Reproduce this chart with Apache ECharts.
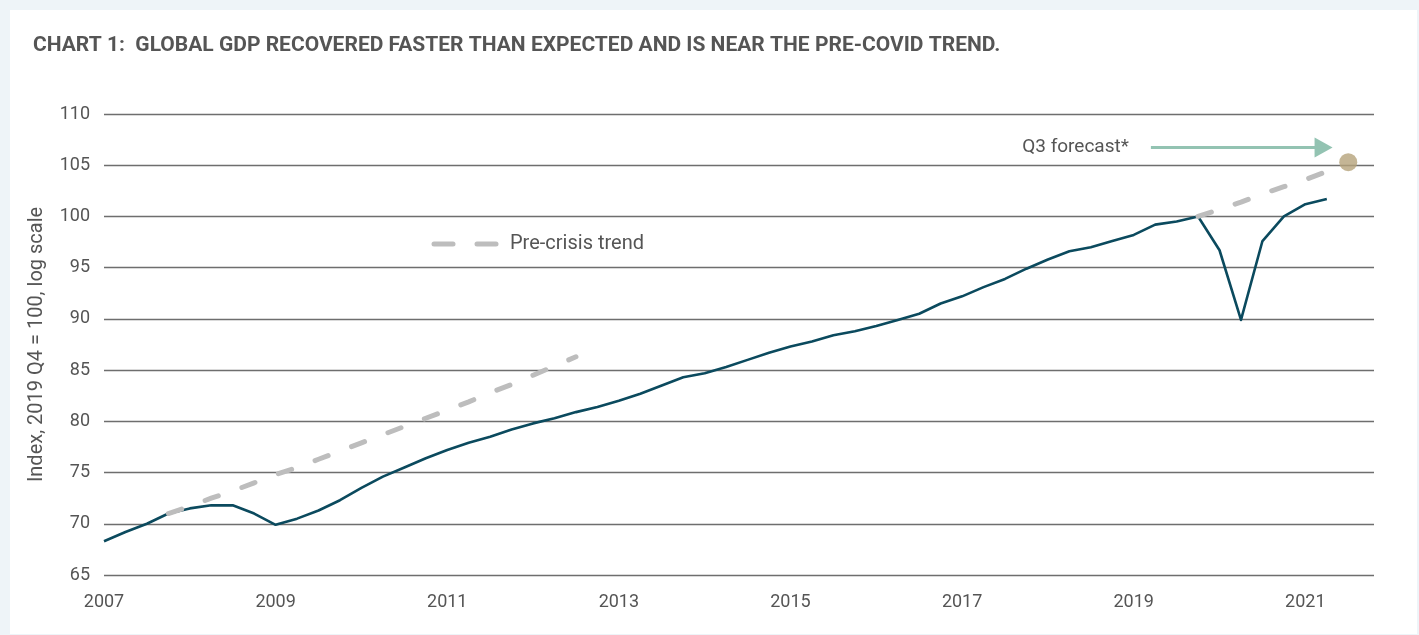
<!DOCTYPE html>
<html>
<head>
<meta charset="utf-8">
<script src="https://cdn.jsdelivr.net/npm/echarts@6/dist/echarts.min.js"></script>
<style>
  html, body { margin: 0; padding: 0; background: #eef4f8; }
  #card { position: absolute; left: 10px; top: 10px; width: 1407px; height: 624px; background: #ffffff; }
  #chart { position: absolute; left: 0; top: 0; width: 1419px; height: 635px; }
</style>
</head>
<body>
<div id="card"></div>
<div id="chart"></div>
<script>
// Quarterly index, 2019 Q4 = 100. Quarter 0 = 2007 Q1.
const startYear = 2007;
const yTicks = [65, 70, 75, 80, 85, 90, 95, 100, 105, 110];
const xTickYears = [2007, 2009, 2011, 2013, 2015, 2017, 2019, 2021];

// Global GDP, 2007 Q1 .. 2021 Q2
const gdp = [
  68.3, 69.2, 70.0, 71.0, 71.5, 71.8, 71.8, 71.0,
  69.9, 70.5, 71.3, 72.3, 73.5, 74.6, 75.5, 76.4,
  77.2, 77.9, 78.5, 79.2, 79.8, 80.3, 80.9, 81.4,
  82.0, 82.7, 83.5, 84.3, 84.7, 85.3, 86.0, 86.7,
  87.3, 87.8, 88.4, 88.8, 89.3, 89.9, 90.5, 91.5,
  92.2, 93.1, 93.9, 94.9, 95.8, 96.6, 97.0, 97.6,
  98.2, 99.2, 99.5, 100.0, 96.7, 89.9, 97.6, 100.0,
  101.2, 101.7
];

// Pre-crisis trend, 2007 Q4 .. 2012 Q3
const trendPreStart = 3;
const trendPre = [
  71.0, 71.7, 72.5, 73.2, 74.0, 74.8, 75.5, 76.3,
  77.1, 77.9, 78.7, 79.5, 80.3, 81.1, 81.9, 82.8,
  83.6, 84.5, 85.4, 86.3
];

// Pre-COVID trend, 2019 Q4 .. 2021 Q2
const trendPostStart = 51;
const trendPost = [100.0, 100.7, 101.4, 102.2, 102.9, 103.6, 104.4];

// Q3 2021 forecast
const forecastQuarter = 58;
const forecastValue = 105.3;

const toPairs = (arr, offset) => arr.map((v, i) => [i + offset, v]);

const labelFont = 'Roboto, "Liberation Sans", sans-serif';
const textColor = '#555555';

const chart = echarts.init(document.getElementById('chart'), null, { renderer: 'canvas' });

const trendStyle = {
  color: '#bdbdbd',
  width: 5,
  type: [14, 25],
  cap: 'round'
};

chart.setOption({
  backgroundColor: 'transparent',
  animation: false,
  title: {
    text: 'CHART 1:  GLOBAL GDP RECOVERED FASTER THAN EXPECTED AND IS NEAR THE PRE-COVID TREND.',
    left: 33,
    top: 35,
    padding: 0,
    textStyle: {
      fontFamily: labelFont,
      fontWeight: 'bold',
      fontSize: 21,
      color: '#555555'
    }
  },
  grid: { left: 104, right: 45, top: 114, bottom: 60, containLabel: false },
  xAxis: {
    type: 'value',
    min: 0,
    max: 59.2,
    interval: 8,
    axisLine: { show: false },
    axisTick: { show: false },
    splitLine: { show: false },
    axisLabel: {
      margin: 18,
      fontFamily: labelFont,
      fontSize: 18,
      color: textColor,
      formatter: v => {
        const y = startYear + v / 4;
        return xTickYears.includes(y) ? String(y) : '';
      }
    }
  },
  yAxis: {
    type: 'value',
    min: yTicks[0],
    max: yTicks[yTicks.length - 1],
    interval: 5,
    name: 'Index, 2019 Q4 = 100, log scale',
    nameLocation: 'middle',
    nameRotate: 90,
    nameGap: 57,
    nameTextStyle: { fontFamily: labelFont, fontSize: 20, color: textColor },
    axisLine: { show: false },
    axisTick: { show: false },
    axisLabel: { margin: 14, fontFamily: labelFont, fontSize: 18, color: textColor },
    splitLine: { lineStyle: { color: '#6e6e6e', width: 1.3 } }
  },
  series: [
    {
      name: 'Global GDP',
      type: 'line',
      data: toPairs(gdp, 0),
      symbol: 'none',
      lineStyle: { color: '#0b4a5e', width: 2.6, join: 'round' },
      z: 2
    },
    {
      name: 'Pre-crisis trend',
      type: 'line',
      data: toPairs(trendPre, trendPreStart),
      symbol: 'none',
      lineStyle: trendStyle,
      z: 3
    },
    {
      name: 'Pre-COVID trend',
      type: 'line',
      data: toPairs(trendPost, trendPostStart),
      symbol: 'none',
      lineStyle: trendStyle,
      z: 3
    },
    {
      name: 'Q3 forecast',
      type: 'scatter',
      data: [[forecastQuarter, forecastValue]],
      symbol: 'circle',
      symbolSize: 18,
      itemStyle: { color: '#b5a37b' },
      z: 4,
      markLine: {
        silent: true,
        symbol: ['none', 'triangle'],
        symbolSize: [20, 18],
        lineStyle: { color: '#93c3b2', width: 3, type: 'solid' },
        label: {
          show: true,
          position: 'start',
          distance: 22,
          formatter: 'Q3 forecast*',
          fontFamily: labelFont,
          fontSize: 19,
          color: textColor
        },
        data: [[{ coord: [48.8, 106.73] }, { coord: [56.85, 106.73] }]]
      }
    }
  ],
  graphic: [
    {
      type: 'group',
      x: 432,
      y: 234,
      children: [
        { type: 'line', shape: { x1: 2, y1: 10, x2: 21, y2: 10 }, style: { stroke: '#bdbdbd', lineWidth: 5, lineCap: 'round' } },
        { type: 'line', shape: { x1: 45, y1: 10, x2: 64, y2: 10 }, style: { stroke: '#bdbdbd', lineWidth: 5, lineCap: 'round' } },
        { type: 'text', x: 78, y: 10, style: { text: 'Pre-crisis trend', fontFamily: labelFont, fontSize: 20, fill: textColor, textVerticalAlign: 'middle' } }
      ]
    }
  ]
});
</script>
</body>
</html>
